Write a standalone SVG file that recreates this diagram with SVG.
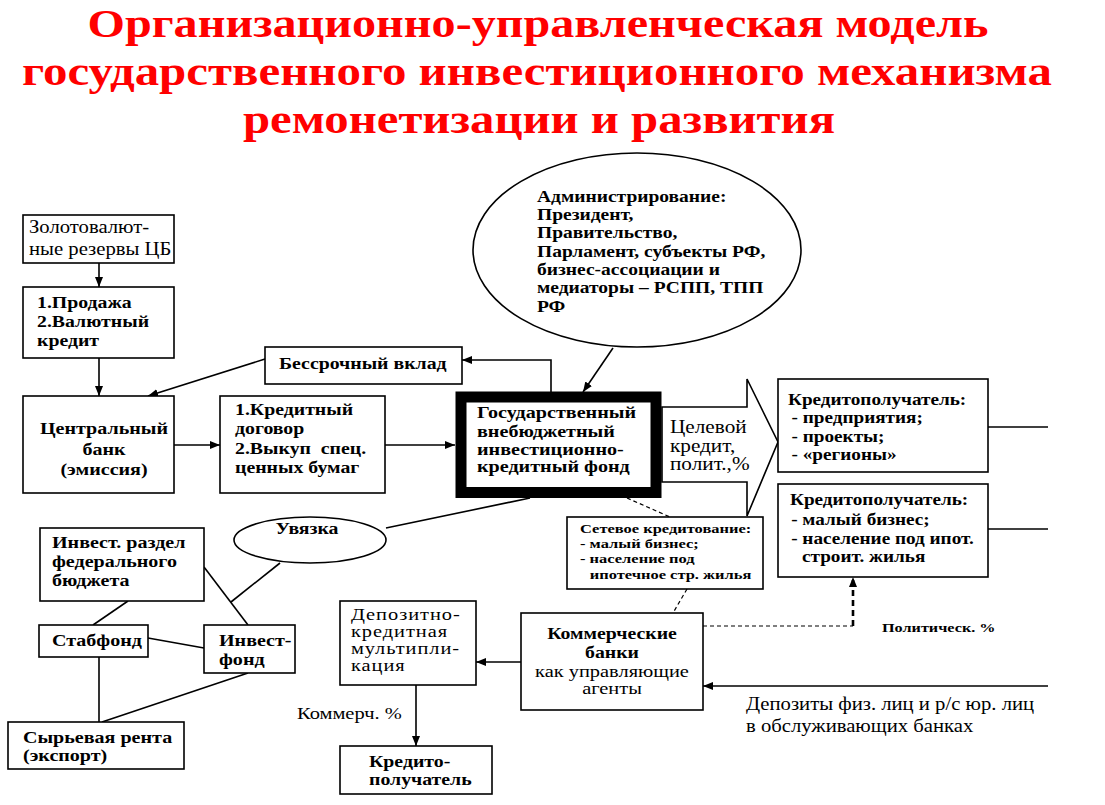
<svg xmlns="http://www.w3.org/2000/svg" width="1105" height="805" viewBox="0 0 1105 805">
<defs>
<marker id="ah" markerUnits="userSpaceOnUse" markerWidth="10" markerHeight="8" refX="10" refY="4" orient="auto">
<path d="M0,0 L10,4 L0,8 z" fill="#000"/>
</marker>
<style>
.box{fill:#fff;stroke:#000;stroke-width:1.6}
.ln{fill:none;stroke:#000;stroke-width:1.6}
.ar{fill:none;stroke:#000;stroke-width:1.6;marker-end:url(#ah)}
.dl{fill:none;stroke:#000;stroke-width:1.2;stroke-dasharray:4 3}
.t{font-family:"Liberation Serif","Times New Roman",Tinos,"Noto Serif","DejaVu Serif",FreeSerif,"Nimbus Roman",serif;font-size:18px;fill:#000}
.b{font-weight:bold;font-size:16.5px}
.ttl{font-family:"Liberation Serif","Times New Roman",Tinos,"Noto Serif","DejaVu Serif",FreeSerif,"Nimbus Roman",serif;font-size:40px;font-weight:bold;fill:#f00}
</style>
</defs>
<rect width="1105" height="805" fill="#fff"/>

<g id="title">
<text class="ttl" x="538" y="37" text-anchor="middle" textLength="901" lengthAdjust="spacingAndGlyphs">Организационно-управленческая модель</text>
<text class="ttl" x="537" y="85" text-anchor="middle" textLength="1030" lengthAdjust="spacingAndGlyphs">государственного инвестиционного механизма</text>
<text class="ttl" x="539" y="133" text-anchor="middle" textLength="592" lengthAdjust="spacingAndGlyphs">ремонетизации и развития</text>
</g>

<g id="connectors">
<line class="ar" x1="99" y1="263" x2="99" y2="287"/>
<line class="ar" x1="99" y1="358" x2="99" y2="396"/>
<line class="ar" x1="265" y1="359" x2="148" y2="396"/>
<line class="ar" x1="174" y1="445" x2="220" y2="445"/>
<line class="ar" x1="385" y1="445" x2="455" y2="445"/>
<polyline class="ar" points="551,392 551,360 462,360"/>
<line class="ar" x1="613" y1="348" x2="583" y2="392"/>
<line class="ar" x1="521" y1="662" x2="476" y2="662"/>
<line class="ar" x1="416" y1="685" x2="416" y2="746"/>
<line class="ar" x1="1048" y1="686" x2="703" y2="686"/>
<line class="ln" x1="128" y1="601" x2="93" y2="625"/>
<line class="ln" x1="204" y1="567" x2="248" y2="625"/>
<line class="ln" x1="280" y1="563" x2="231" y2="602"/>
<line class="ln" x1="148" y1="638" x2="204" y2="648"/>
<line class="ln" x1="99" y1="657" x2="99" y2="722"/>
<line class="ln" x1="248" y1="673" x2="102" y2="722"/>
<line class="ln" x1="386" y1="528" x2="530" y2="498"/>
<line class="ln" x1="988" y1="427" x2="1048" y2="427"/>
<line class="ln" x1="988" y1="529" x2="1048" y2="529"/>
<line class="dl" x1="627" y1="498" x2="670" y2="517"/>
<line class="dl" x1="687" y1="589" x2="673" y2="613"/>
<line class="dl" x1="703" y1="626" x2="853" y2="626"/>
<line x1="853" y1="626" x2="853" y2="577" fill="none" stroke="#000" stroke-width="2.6" stroke-dasharray="6 4" marker-end="url(#ah)"/>
<polygon points="662,407 747,407 747,379 778,442 747,516 747,482 662,482" fill="#fff" stroke="#000" stroke-width="1.6"/>
<text class="t" transform="translate(670,433) scale(1.18,1)"><tspan x="0" y="0">Целевой</tspan><tspan x="0" y="19">кредит,</tspan><tspan x="0" y="37">полит.,%</tspan></text>
<text class="t" font-weight="bold" transform="translate(882,632) scale(1.2,1)" style="font-size:13.5px">Политическ. %</text>
<text class="t" transform="translate(297,719) scale(1.17,1)" style="font-size:17.5px">Коммерч. %</text>
<text class="t" transform="translate(746,710) scale(1.15,1)"><tspan x="0" y="0">Депозиты физ. лиц и р/с юр. лиц</tspan><tspan x="0" y="22">в обслуживающих банках</tspan></text>
</g>

<g id="zolot">
<rect class="box" x="23" y="215" width="151" height="48"/>
<text class="t" transform="translate(29,233) scale(1.15,1)"><tspan x="0" y="0">Золотовалют-</tspan><tspan x="0" y="22">ные резервы ЦБ</tspan></text>
</g>

<g id="prodazha">
<rect class="box" x="23" y="287" width="151" height="71"/>
<text class="t b" transform="translate(37,308) scale(1.2,1)"><tspan x="0" y="0">1.Продажа</tspan><tspan x="0" y="19">2.Валютный</tspan><tspan x="0" y="38">кредит</tspan></text>
</g>

<g id="cb">
<rect class="box" x="23" y="396" width="151" height="97"/>
<text class="t b" text-anchor="middle" transform="translate(104,434) scale(1.18,1)" style="font-size:17px"><tspan x="0" y="0">Центральный</tspan><tspan x="0" y="21">банк</tspan><tspan x="0" y="41">(эмиссия)</tspan></text>
</g>

<g id="dogovor">
<rect class="box" x="220" y="396" width="165" height="97"/>
<text class="t b" transform="translate(235,415) scale(1.2,1)"><tspan x="0" y="0">1.Кредитный</tspan><tspan x="0" y="19">договор</tspan><tspan x="0" y="39">2.Выкуп&#160; спец.</tspan><tspan x="0" y="58">ценных бумаг</tspan></text>
</g>

<g id="vklad">
<rect class="box" x="265" y="347" width="197" height="37"/>
<text class="t b" transform="translate(279,369) scale(1.2,1)">Бессрочный вклад</text>
</g>

<g id="admin">
<ellipse cx="637" cy="250" rx="164" ry="97" fill="#fff" stroke="#000" stroke-width="1.6"/>
<text class="t b" transform="translate(537,202) scale(1.22,1)" style="font-size:16px"><tspan x="0" y="0">Администрирование:</tspan><tspan x="0" y="18">Президент,</tspan><tspan x="0" y="36">Правительство,</tspan><tspan x="0" y="55">Парламент, субъекты РФ,</tspan><tspan x="0" y="73">бизнес-ассоциации и</tspan><tspan x="0" y="91">медиаторы – РСПП, ТПП</tspan><tspan x="0" y="110">РФ</tspan></text>
</g>

<g id="fund">
<rect x="461" y="397" width="195" height="95.5" fill="#fff" stroke="#000" stroke-width="11"/>
<text class="t b" transform="translate(477,418) scale(1.22,1)"><tspan x="0" y="0">Государственный</tspan><tspan x="0" y="19">внебюджетный</tspan><tspan x="0" y="37">инвестиционно-</tspan><tspan x="0" y="54">кредитный фонд</tspan></text>
</g>

<g id="kred1">
<rect class="box" x="778" y="379" width="210" height="93"/>
<text class="t b" transform="translate(788,405) scale(1.2,1)" style="font-size:16px"><tspan x="0" y="0">Кредитополучатель:</tspan><tspan x="3" y="18">- предприятия;</tspan><tspan x="3" y="37">- проекты;</tspan><tspan x="3" y="55">- «регионы»</tspan></text>
</g>

<g id="kred2">
<rect class="box" x="778" y="484" width="210" height="93"/>
<text class="t b" transform="translate(790,505) scale(1.2,1)" style="font-size:16px"><tspan x="0" y="0">Кредитополучатель:</tspan><tspan x="1" y="20">- малый бизнес;</tspan><tspan x="1" y="39">- население под ипот.</tspan><tspan x="10" y="57">строит. жилья</tspan></text>
</g>

<g id="setevoe">
<rect class="box" x="567" y="517" width="196" height="72"/>
<text class="t b" transform="translate(580,533) scale(1.22,1)" style="font-size:13.5px"><tspan x="0" y="0">Сетевое кредитование:</tspan><tspan x="0" y="15">- малый бизнес;</tspan><tspan x="0" y="30">- население под</tspan><tspan x="8" y="46">ипотечное стр. жилья</tspan></text>
</g>

<g id="banks">
<rect class="box" x="521" y="613" width="182" height="97"/>
<text class="t b" text-anchor="middle" transform="translate(612,639) scale(1.2,1)"><tspan x="0" y="0">Коммерческие</tspan><tspan x="0" y="19">банки</tspan></text>
<text class="t" text-anchor="middle" transform="translate(612,677) scale(1.2,1)" style="font-size:17px"><tspan x="0" y="0">как управляющие</tspan><tspan x="0" y="17">агенты</tspan></text>
</g>

<g id="multi">
<rect class="box" x="340" y="601" width="136" height="84"/>
<text class="t" letter-spacing="0.8" transform="translate(351,620) scale(1.2,1)" style="font-size:17px"><tspan x="0" y="0">Депозитно-</tspan><tspan x="0" y="17">кредитная</tspan><tspan x="0" y="34">мультипли-</tspan><tspan x="0" y="51">кация</tspan></text>
</g>

<g id="kred3">
<rect class="box" x="340" y="746" width="152" height="48"/>
<text class="t b" transform="translate(369,767) scale(1.2,1)"><tspan x="0" y="0">Кредито-</tspan><tspan x="0" y="18">получатель</tspan></text>
</g>

<g id="uvyazka">
<ellipse cx="310" cy="540" rx="76" ry="23" fill="#fff" stroke="#000" stroke-width="1.6"/>
<text class="t b" text-anchor="middle" transform="translate(307,534) scale(1.2,1)">Увязка</text>
</g>

<g id="razdel">
<rect class="box" x="40" y="528" width="164" height="73"/>
<text class="t b" transform="translate(52,548) scale(1.18,1)" style="font-size:17px"><tspan x="0" y="0">Инвест. раздел</tspan><tspan x="0" y="19">федерального</tspan><tspan x="0" y="38">бюджета</tspan></text>
</g>

<g id="stabfond">
<rect class="box" x="39" y="625" width="109" height="32"/>
<text class="t b" transform="translate(52,646) scale(1.18,1)" style="font-size:17px">Стабфонд</text>
</g>

<g id="investfond">
<rect class="box" x="204" y="625" width="91" height="48"/>
<text class="t b" transform="translate(219,646) scale(1.18,1)" style="font-size:17px"><tspan x="0" y="0">Инвест-</tspan><tspan x="0" y="19">фонд</tspan></text>
</g>

<g id="renta">
<rect class="box" x="8" y="722" width="176" height="47"/>
<text class="t b" transform="translate(23,743) scale(1.18,1)" style="font-size:17px"><tspan x="0" y="0">Сырьевая рента</tspan><tspan x="0" y="18">(экспорт)</tspan></text>
</g>
</svg>
